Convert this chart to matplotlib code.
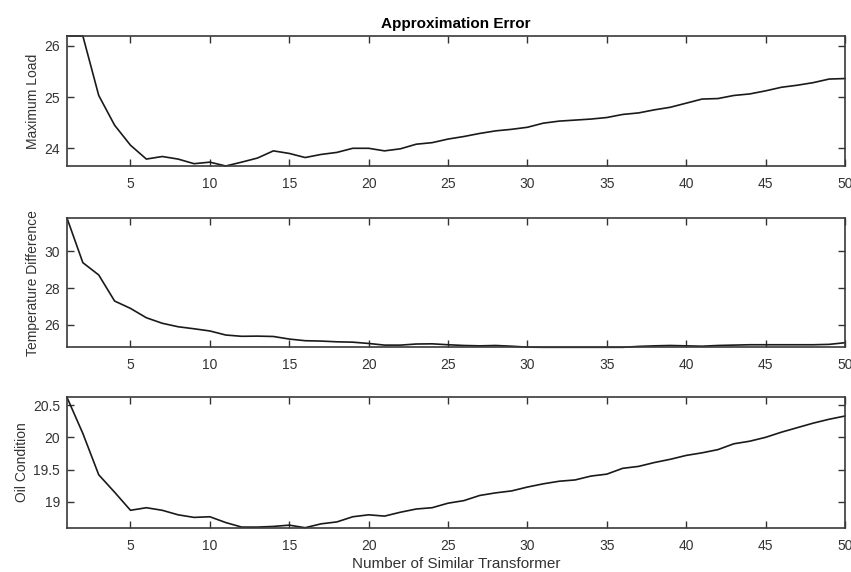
import numpy as np
import matplotlib
matplotlib.use('Agg')
import matplotlib.pyplot as plt

plt.rcParams['font.family'] = ['Liberation Sans', 'DejaVu Sans']

# number of similar transformers
n = list(range(1, 51))

max_load = [26.19, 26.19, 25.03, 24.45, 24.06, 23.79, 23.84, 23.79, 23.70, 23.73,
            23.655, 23.73, 23.81, 23.95, 23.90, 23.82, 23.88, 23.92, 24.00, 24.00,
            23.95, 23.99, 24.08, 24.11, 24.18, 24.23, 24.29, 24.34, 24.37, 24.41,
            24.49, 24.53, 24.55, 24.57, 24.60, 24.66, 24.69, 24.75, 24.80, 24.88,
            24.96, 24.97, 25.03, 25.06, 25.12, 25.19, 25.23, 25.28, 25.35, 25.36]

temp_diff = [31.81, 29.38, 28.71, 27.29, 26.89, 26.38, 26.08, 25.89, 25.78, 25.66,
             25.44, 25.37, 25.38, 25.36, 25.22, 25.13, 25.11, 25.07, 25.05, 24.98,
             24.89, 24.89, 24.95, 24.96, 24.91, 24.87, 24.85, 24.87, 24.83, 24.78,
             24.77, 24.77, 24.77, 24.77, 24.77, 24.77, 24.82, 24.85, 24.87, 24.85,
             24.83, 24.87, 24.89, 24.91, 24.91, 24.91, 24.91, 24.91, 24.93, 25.02]

oil_cond = [20.62, 20.06, 19.42, 19.15, 18.87, 18.91, 18.87, 18.80, 18.76, 18.77,
            18.68, 18.61, 18.61, 18.62, 18.64, 18.60, 18.66, 18.69, 18.77, 18.80,
            18.78, 18.84, 18.89, 18.91, 18.98, 19.02, 19.10, 19.14, 19.17, 19.23,
            19.28, 19.32, 19.34, 19.40, 19.43, 19.52, 19.55, 19.61, 19.66, 19.72,
            19.76, 19.81, 19.90, 19.94, 20.00, 20.08, 20.15, 20.22, 20.28, 20.33]

series = [max_load, temp_diff, oil_cond]
labels = ['Maximum Load', 'Temperature Difference', 'Oil Condition']
yticks = [[24, 25, 26], [26, 28, 30], [19, 19.5, 20, 20.5]]
yticklabels = [['24', '25', '26'], ['26', '28', '30'], ['19', '19.5', '20', '20.5']]

fig = plt.figure(figsize=(8.51, 5.72), dpi=100)
rects = [[0.0787, 0.7098, 0.9142, 0.2273],
         [0.0787, 0.3928, 0.9142, 0.2260],
         [0.0787, 0.0774, 0.9142, 0.2280]]

edge = '#3a3a3a'
txt = '#333333'
for i in range(3):
    ax = fig.add_axes(rects[i])
    ax.plot(n, series[i], color='#1a1a1a', lw=1.2, clip_on=False)
    ax.set_xlim(1, 50)
    ax.set_ylim(min(series[i]), max(series[i]))
    ax.set_xticks(range(5, 51, 5))
    ax.set_yticks(yticks[i])
    ax.set_yticklabels(yticklabels[i])
    ax.set_ylabel(labels[i], fontsize=10, color=txt, labelpad=3)
    ax.tick_params(direction='in', length=5, width=1, top=True, right=True,
                   labelsize=10, colors=txt)
    ax.tick_params(axis='x', pad=8)
    ax.tick_params(axis='y', pad=5)
    for s in ax.spines.values():
        s.set_color(edge)
        s.set_linewidth(1.2)
    if i == 0:
        ax.set_title('Approximation Error', fontsize=11, fontweight='bold', pad=6)
    if i == 2:
        ax.set_xlabel('Number of Similar Transformer', fontsize=11, color=txt, labelpad=3)

fig.savefig('out.png', dpi=100)
